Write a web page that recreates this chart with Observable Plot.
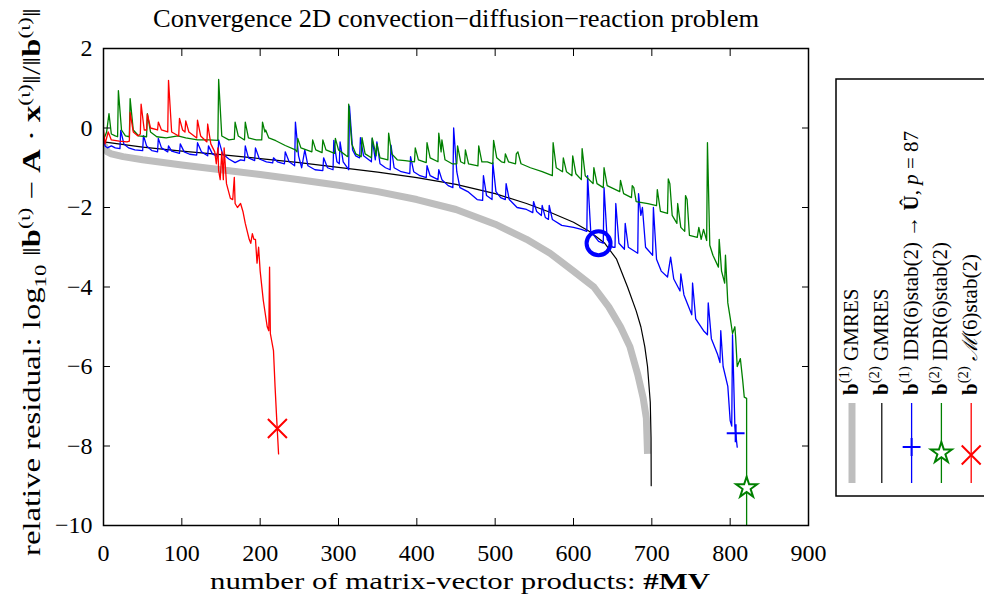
<!DOCTYPE html>
<html><head><meta charset="utf-8">
<script src="https://cdn.jsdelivr.net/npm/d3@7"></script>
<script src="https://cdn.jsdelivr.net/npm/@observablehq/plot@0.6"></script>
<style>html,body{margin:0;padding:0;background:#fff;overflow:hidden} svg{display:block}</style>
</head><body><div id="chart"></div>
<script>
const xTicks = [0,100,200,300,400,500,600,700,800,900];
const yTicks = [-10,-8,-6,-4,-2,0,2];

const gmresB1 = [[0,-0.4],[5,-0.6],[10,-0.65],[25,-0.72],[50,-0.8],[100,-0.93],[150,-1.05],[200,-1.17],[250,-1.3],[300,-1.44],[350,-1.6],[400,-1.8],[450,-2.05],[500,-2.42],[540,-2.8],[570,-3.15],[600,-3.6],[626,-4.0],[645,-4.5],[660,-5.0],[672,-5.5],[682,-6.2],[689,-6.8],[693,-7.3],[694.5,-8.2]];

const gmresB2 = [[0,-0.35],[50,-0.48],[100,-0.58],[150,-0.67],[200,-0.77],[250,-0.87],[300,-0.99],[350,-1.11],[400,-1.25],[450,-1.42],[500,-1.65],[540,-1.9],[570,-2.12],[600,-2.37],[620,-2.6],[640,-2.9],[655,-3.3],[669,-4.0],[680,-4.6],[686,-5.0],[691,-5.5],[694.5,-6.0],[698,-6.9],[699,-7.8],[699.2,-9.0]];

const idrB1 = [[0,-0.25],[2,-0.45],[5,-0.5],[10,-0.45],[15,-0.5],[21,-0.52],[22,-0.06],[26,-0.4],[32,-0.5],[40,-0.55],[50,-0.57],[51,-0.19],[55,-0.45],[62,-0.57],[69,-0.6],[70,-0.26],[74,-0.5],[82,-0.6],[83,-0.45],[87,-0.58],[97,-0.64],[98,-0.4],[103,-0.6],[110,-0.66],[119,-0.68],[120,-0.37],[125,-0.6],[133,-0.7],[134,-0.45],[139,-0.65],[146,-0.72],[147,-0.3],[152,-0.65],[160,-0.78],[168,-0.87],[175,-0.8],[180,-0.82],[181,-0.45],[185,-0.75],[193,-0.82],[194,-0.5],[199,-0.78],[208,-0.85],[216,-0.88],[217,-0.75],[222,-0.85],[231,-0.9],[232,-0.6],[237,-0.85],[244,-0.95],[245,0.15],[249,-0.7],[253,-1.0],[257,-0.55],[261,-0.95],[270,-1.05],[280,-1.07],[281,-0.75],[286,-1.0],[293,-1.05],[294,-0.31],[298,-0.85],[301,-0.9],[302,-0.35],[306,-0.85],[313,-1.05],[314,0.55],[318,-0.55],[322,-0.7],[327,-0.75],[328,-0.24],[332,-0.7],[342,-0.85],[343,-0.27],[347,-0.8],[349,-0.35],[353,-0.9],[360,-1.0],[366,-1.05],[367,-0.43],[371,-1.0],[380,-1.1],[391,-1.15],[392,-0.72],[396,-1.1],[404,-1.2],[412,-1.25],[413,-0.95],[417,-1.2],[427,-1.3],[428,-1.05],[432,-1.3],[440,-1.45],[446,-1.5],[447,0.0],[451,-1.1],[455,-1.5],[465,-1.6],[477,-1.8],[484,-1.82],[485,-1.2],[489,-1.7],[496,-1.8],[497,-0.87],[501,-1.6],[507,-1.75],[513,-1.8],[514,-1.4],[518,-1.8],[528,-2.0],[540,-2.05],[548,-2.13],[549,-1.85],[553,-2.1],[559,-2.2],[560,-1.95],[564,-2.25],[568,-2.3],[569,-1.95],[573,-2.3],[585,-2.45],[600,-2.5],[610,-2.55],[617,-2.6],[618,-1.2],[622,-2.6],[632,-2.85],[638,-2.9],[639,-1.5],[643,-2.8],[650,-3.0],[653,-3.0],[654,-1.9],[658,-2.9],[665,-3.05],[666,-2.4],[670,-3.0],[682,-3.15],[683,-1.65],[686,-2.2],[688,-2.0],[692,-3.0],[701,-3.2],[702,-2.0],[706,-3.3],[712,-3.6],[720,-3.75],[724,-3.25],[728,-3.8],[736,-4.1],[737,-3.67],[741,-4.2],[751,-4.7],[752,-3.9],[756,-4.8],[766,-5.1],[771,-5.2],[772,-4.4],[776,-5.3],[784,-5.7],[787,-5.9],[788,-5.1],[791,-6.0],[797,-6.5],[800,-7.36],[802,-7.5],[803,-5.2],[806,-7.5],[809,-8.03]];

const idrB2 = [[0,-0.3],[4,-0.1],[7,0.36],[10,-0.15],[15,-0.2],[18,-0.22],[19,0.94],[23,-0.05],[28,-0.2],[33,-0.22],[34,0.74],[38,-0.05],[45,-0.2],[55,-0.22],[56,0.36],[60,-0.1],[68,-0.22],[80,-0.25],[95,-0.2],[105,-0.25],[120,-0.3],[135,-0.3],[146,-0.31],[147,1.22],[151,-0.2],[160,-0.3],[167,-0.28],[168,0.15],[172,-0.2],[180,-0.3],[181,0.15],[185,-0.25],[195,-0.3],[202,-0.3],[203,0.15],[206,-0.1],[207,-0.05],[211,-0.25],[220,-0.32],[232,-0.44],[245,-0.55],[247,-0.6],[248,-0.26],[252,-0.5],[266,-0.6],[267,-0.3],[271,-0.55],[279,-0.62],[280,-0.3],[284,-0.55],[295,-0.64],[296,-0.26],[300,-0.55],[310,-0.7],[312,-0.72],[313,0.6],[317,-0.4],[322,-0.65],[329,-0.72],[330,-0.24],[334,-0.65],[342,-0.75],[343,-0.25],[347,-0.6],[348,-0.7],[349,-0.4],[353,-0.75],[363,-0.8],[364,-0.13],[368,-0.65],[375,-0.8],[385,-0.82],[397,-0.85],[398,-0.5],[402,-0.8],[412,-0.87],[413,-0.37],[417,-0.75],[427,-0.85],[428,-0.13],[431,-0.6],[432,-0.3],[436,-0.8],[445,-0.9],[451,-0.9],[452,-0.45],[456,-0.85],[461,-0.9],[462,-0.55],[466,-0.9],[478,-0.95],[479,-0.45],[483,-0.85],[490,-0.85],[497,-0.9],[498,-0.31],[502,-0.75],[508,-0.85],[512,-0.87],[513,-0.65],[517,-0.85],[526,-0.9],[527,-0.65],[529,-0.6],[533,-0.9],[545,-1.0],[560,-1.1],[573,-1.2],[574,-0.37],[578,-1.0],[586,-1.1],[587,-0.75],[591,-1.1],[598,-1.2],[599,-0.7],[603,-1.15],[610,-1.3],[611,-0.52],[615,-1.2],[625,-1.4],[626,-1.0],[630,-1.4],[638,-1.5],[639,-1.0],[643,-1.45],[659,-1.6],[660,-1.32],[664,-1.65],[674,-1.75],[675,-1.45],[677,-1.5],[680,-1.85],[695,-1.9],[706,-1.95],[707,-1.55],[711,-2.1],[720,-2.15],[721,-1.28],[723,-1.4],[726,-2.2],[732,-2.4],[733,-1.9],[737,-2.5],[742,-2.6],[743,-1.7],[745,-1.8],[748,-2.7],[758,-2.75],[760,-2.5],[763,-2.8],[766,-2.55],[770,-2.83],[771,-0.37],[774,-2.95],[778,-3.2],[785,-3.5],[786,-2.8],[789,-3.6],[793,-3.9],[794,-3.2],[797,-4.4],[800,-4.77],[803,-5.17],[806,-5.0],[807,-5.27],[809,-6.0],[813,-5.8],[816,-6.35],[818,-6.77],[821,-6.8],[821,-10.5]];

const mB2 = [[0,-0.05],[2,-0.4],[6,-0.1],[10,-0.3],[20,-0.33],[30,-0.35],[33,-0.33],[34,0.39],[38,-0.1],[44,-0.2],[47,-0.15],[48,0.6],[52,-0.05],[55,-0.05],[56,0.35],[60,0.0],[69,-0.05],[70,0.15],[74,-0.05],[82,-0.1],[83,1.2],[87,-0.1],[96,-0.2],[97,0.24],[101,-0.05],[104,-0.1],[105,0.18],[109,-0.1],[119,-0.25],[120,0.2],[124,-0.2],[132,-0.35],[133,0.1],[137,-0.4],[142,-0.6],[144,-0.9],[146,-0.5],[147,-1.07],[149,-1.3],[151,-0.6],[153,-1.3],[154,-0.5],[157,-1.4],[162,-1.77],[165,-1.8],[167,-1.24],[168,-1.9],[171,-2.0],[175,-1.9],[178,-2.1],[181,-2.4],[186,-2.8],[188,-2.9],[190,-2.66],[192,-2.8],[194,-2.8],[196,-3.4],[198,-3.0],[200,-3.6],[204,-4.34],[209,-5.0],[211,-5.1],[212,-3.5],[213,-5.17],[217,-5.6],[219,-6.5],[221,-7.28],[223.5,-8.2]];

const markerCircle = [[632,-2.9]];
const markerPlus = [[807,-7.68]];
const markerStar = [[821,-9.05]];
const markerTimes = [[222,-7.56]];

const titleText = "Convergence 2D convection\u2212diffusion\u2212reaction problem";
const xLabelParts = [["number of matrix-vector products: ",""],["#MV","b"]];
const yLabelParts = [["relative residual: log",""],["10","sub"],[" \u2016",""],["b","b"],["(\u03B9)","sup"],[" \u2212 ",""],["A","b"],[" \u00B7 ",""],["x","b"],["(\u03B9)","sup"],["\u2016/\u2016",""],["b","b"],["(\u03B9)","sup"],["\u2016",""]];
const legendLabels = [
  [["b","b"],["(1)","sup"],[" GMRES",""]],
  [["b","b"],["(2)","sup"],[" GMRES",""]],
  [["b","b"],["(1)","sup"],[" IDR(6)stab(2) \u2192 ",""],["\u00DB","b"],[", ",""],["p","i"],[" = 87",""]],
  [["b","b"],["(2)","sup"],[" IDR(6)stab(2)",""]],
  [["b","b"],["(2)","sup"],[" ",""],["\u2133","i"],["(6)stab(2)",""]]
];
const legendColors = ["#bebebe","black","blue","green","red"];
const legendWidths = [7,1.2,1.3,1.3,1.3];
const legendSymbols = [null,null,"plus","star","times"];

const FONT = "'Liberation Serif','Times New Roman',serif";
const xy = {x: d => d[0], y: d => d[1]};
const fmt = d => d < 0 ? "\u2212" + Math.abs(d) : String(d);

const chart = Plot.plot({
  width: 984, height: 594,
  marginLeft: 103, marginRight: 176, marginTop: 48, marginBottom: 69,
  style: {fontFamily: FONT, background: "white", color: "black"},
  x: {domain: [0, 900]},
  y: {domain: [-10, 2]},
  marks: [
    Plot.line(gmresB1, {...xy, stroke: "#bebebe", strokeWidth: 7, strokeLinecap: "butt", clip: true}),
    Plot.line(gmresB2, {...xy, stroke: "black", strokeWidth: 1.2, clip: true}),
    Plot.line(idrB1, {...xy, stroke: "blue", strokeWidth: 1.3, clip: true}),
    Plot.line(idrB2, {...xy, stroke: "green", strokeWidth: 1.3, clip: true}),
    Plot.line(mB2, {...xy, stroke: "red", strokeWidth: 1.3, clip: true}),
    Plot.dot(markerCircle, {...xy, r: 12, stroke: "blue", strokeWidth: 4, fill: "none"}),
    Plot.dot(markerPlus, {...xy, symbol: "plus", r: 5.8, stroke: "blue", strokeWidth: 2}),
    Plot.dot(markerStar, {...xy, symbol: "star", r: 6.6, stroke: "green", strokeWidth: 2, fill: "white"}),
    Plot.dot(markerTimes, {...xy, symbol: "times", r: 8.7, stroke: "red", strokeWidth: 2}),
    Plot.frame({stroke: "black", strokeWidth: 1.5}),
    Plot.axisX({anchor: "bottom", ticks: xTicks, tickSize: -7, tickPadding: 25, fontSize: 24, fontFamily: FONT, label: null, tickFormat: fmt}),
    Plot.axisX({anchor: "top", ticks: xTicks, tickSize: -7, label: null, tickFormat: () => ""}),
    Plot.axisY({anchor: "left", ticks: yTicks, tickSize: -7, tickPadding: 18, fontSize: 24, fontFamily: FONT, label: null, tickFormat: fmt}),
    Plot.axisY({anchor: "right", ticks: yTicks, tickSize: -7, label: null, tickFormat: () => ""})
  ]
});
document.getElementById("chart").appendChild(chart);

function rich(sel, parts, F) {
  let shift = 0;
  parts.forEach(([t, s]) => {
    const ts = sel.append("tspan").text(t);
    let target = 0;
    if (s === "sup") { ts.attr("font-size", F * 0.7); target = -0.42 * F; }
    else if (s === "sub") { ts.attr("font-size", F * 0.7); target = 0.25 * F; }
    if (s === "b") ts.attr("font-weight", "bold");
    if (s === "i") ts.attr("font-style", "italic");
    if (target !== shift) { ts.attr("dy", target - shift); shift = target; }
  });
}

const svg = d3.select(chart);
svg.selectAll("text").style("font-family", FONT);
const g = svg.append("g").style("font-family", FONT).attr("fill", "black");

g.append("text").attr("x", 456).attr("y", 27).attr("text-anchor", "middle")
  .attr("font-size", 25).attr("textLength", 606).attr("lengthAdjust", "spacingAndGlyphs").text(titleText);

const xl = g.append("text").attr("x", 460).attr("y", 589).attr("text-anchor", "middle").attr("font-size", 24)
  .attr("textLength", 500).attr("lengthAdjust", "spacingAndGlyphs");
rich(xl, xLabelParts, 24);

const yl = g.append("text").attr("transform", "translate(40,282) rotate(-90)").attr("text-anchor", "middle").attr("font-size", 25)
  .attr("textLength", 548).attr("lengthAdjust", "spacingAndGlyphs");
rich(yl, yLabelParts, 25);

// legend
const lg = g.append("g");
lg.append("rect").attr("x", 836).attr("y", 79).attr("width", 200).attr("height", 417)
  .attr("fill", "white").attr("stroke", "black").attr("stroke-width", 1.5);
const symMap = {plus: d3.symbolPlus, star: d3.symbolStar, times: d3.symbolTimes};
const symSize = {plus: 106, star: 136, times: 236};
const symY = {plus: 447, star: 453, times: 455};
legendLabels.forEach((parts, i) => {
  const cx = 852 + i * 29.8;
  lg.append("line").attr("x1", cx).attr("x2", cx).attr("y1", 403).attr("y2", 483)
    .attr("stroke", legendColors[i]).attr("stroke-width", legendWidths[i]);
  const s = legendSymbols[i];
  if (s) {
    lg.append("path").attr("d", d3.symbol(symMap[s], symSize[s])())
      .attr("transform", `translate(${cx},${symY[s]})`)
      .attr("fill", s === "star" ? "white" : "none")
      .attr("stroke", legendColors[i]).attr("stroke-width", 2);
  }
  const t = lg.append("text").attr("transform", `translate(${cx + 6},395) rotate(-90)`)
    .attr("text-anchor", "start").attr("font-size", 21);
  rich(t, parts, 21);
});
</script>
</body></html>
